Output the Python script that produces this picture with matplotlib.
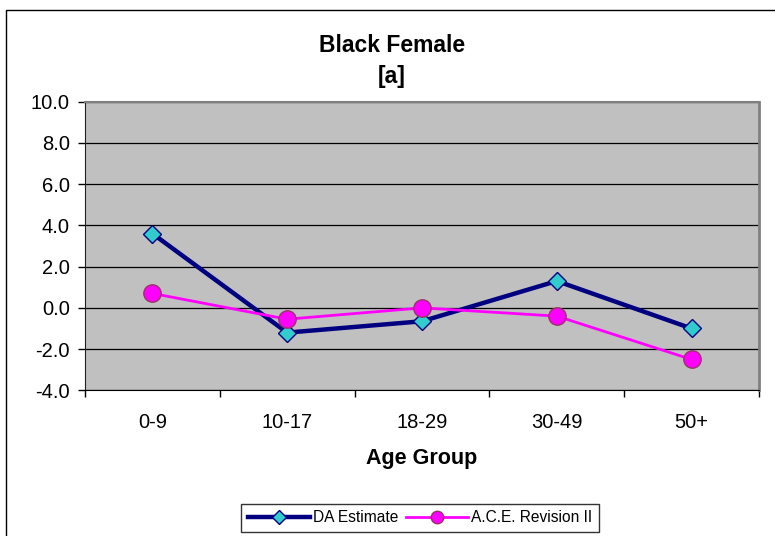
import matplotlib
matplotlib.use("Agg")
import matplotlib.pyplot as plt
from matplotlib.patches import Rectangle
from matplotlib.lines import Line2D

categories = ["0-9", "10-17", "18-29", "30-49", "50+"]
da_estimate = [3.6, -1.2, -0.65, 1.3, -1.0]
ace_revision = [0.7, -0.55, 0.0, -0.4, -2.5]
yticks = [-4.0, -2.0, 0.0, 2.0, 4.0, 6.0, 8.0, 10.0]

plt.rcParams['font.family'] = ['Liberation Sans', 'DejaVu Sans']

W, H = 775, 536
fig = plt.figure(figsize=(W / 100, H / 100), dpi=100)

# outer chart frame
fig.patches.append(Rectangle((6 / W, -0.05), 1.0, 1 - 10 / H + 0.05, transform=fig.transFigure,
                             fill=False, edgecolor='black', linewidth=1.0, clip_on=False))

l, r, t, b = 85, 759, 101.5, 390.4
ax = fig.add_axes([l / W, 1 - b / H, (r - l) / W, (b - t) / H])
ax.set_facecolor('#C0C0C0')

x = list(range(len(categories)))
ax.plot(x, da_estimate, color='#000080', linewidth=3.2, marker='D', markersize=9.5,
        markerfacecolor='#33CCCC', markeredgecolor='#000080', markeredgewidth=1.0, zorder=3,
        label='DA Estimate')
ax.plot(x, ace_revision, color='#FF00FF', linewidth=2.0, marker='o', markersize=12.5,
        markerfacecolor='#FF00FF', markeredgecolor='#993366', markeredgewidth=1.0, zorder=4,
        label='A.C.E. Revision II')

ax.set_ylim(-4, 10)
ax.set_xlim(-0.5, len(categories) - 0.5)
ax.set_yticks(yticks)
ax.set_yticklabels([f"{v:.1f}" for v in yticks], fontsize=14.5)
ax.yaxis.grid(True, color='black', linewidth=0.9)
ax.set_axisbelow(True)

ax.set_xticks([i - 0.5 for i in range(len(categories) + 1)])
ax.set_xticklabels([])
ax.set_xticks(x, minor=True)
ax.set_xticklabels(categories, minor=True, fontsize=14.5)
ax.tick_params(axis='x', which='minor', length=0, pad=16)
ax.tick_params(axis='x', which='major', length=5, width=1, direction='out', color='black')
ax.tick_params(axis='y', length=5, width=1, direction='out', pad=6)

ax.spines['left'].set_color('#202020')
ax.spines['bottom'].set_color('black')
ax.spines['top'].set_color('#808080')
ax.spines['right'].set_color('#808080')
ax.spines['right'].set_linewidth(2.0)
ax.spines['top'].set_linewidth(1.5)

ax.set_xlabel("Age Group", fontsize=15.5, fontweight='bold', labelpad=12)

fig.text(392 / W, 1 - 45 / H, "Black Female", ha='center', va='center', fontsize=16.5, fontweight='bold')
fig.text(392 / W, 1 - 76 / H, "[a]", ha='center', va='center', fontsize=16.5, fontweight='bold')

handles = [
    Line2D([], [], color='#000080', linewidth=3.2, marker='D', markersize=7,
           markerfacecolor='#33CCCC', markeredgecolor='#000080'),
    Line2D([], [], color='#FF00FF', linewidth=2.0, marker='o', markersize=9,
           markerfacecolor='#FF00FF', markeredgecolor='#993366'),
]
leg = fig.legend(handles, ['DA Estimate', 'A.C.E. Revision II'], loc='center',
                 bbox_to_anchor=(420 / W, 1 - 518 / H), ncol=2, fontsize=11.2,
                 frameon=True, fancybox=False, edgecolor='black', handlelength=4.0,
                 handletextpad=0.2, columnspacing=0.5, borderpad=0.4, borderaxespad=0)
leg.get_frame().set_linewidth(1.0)

fig.savefig("out.png", dpi=100)
